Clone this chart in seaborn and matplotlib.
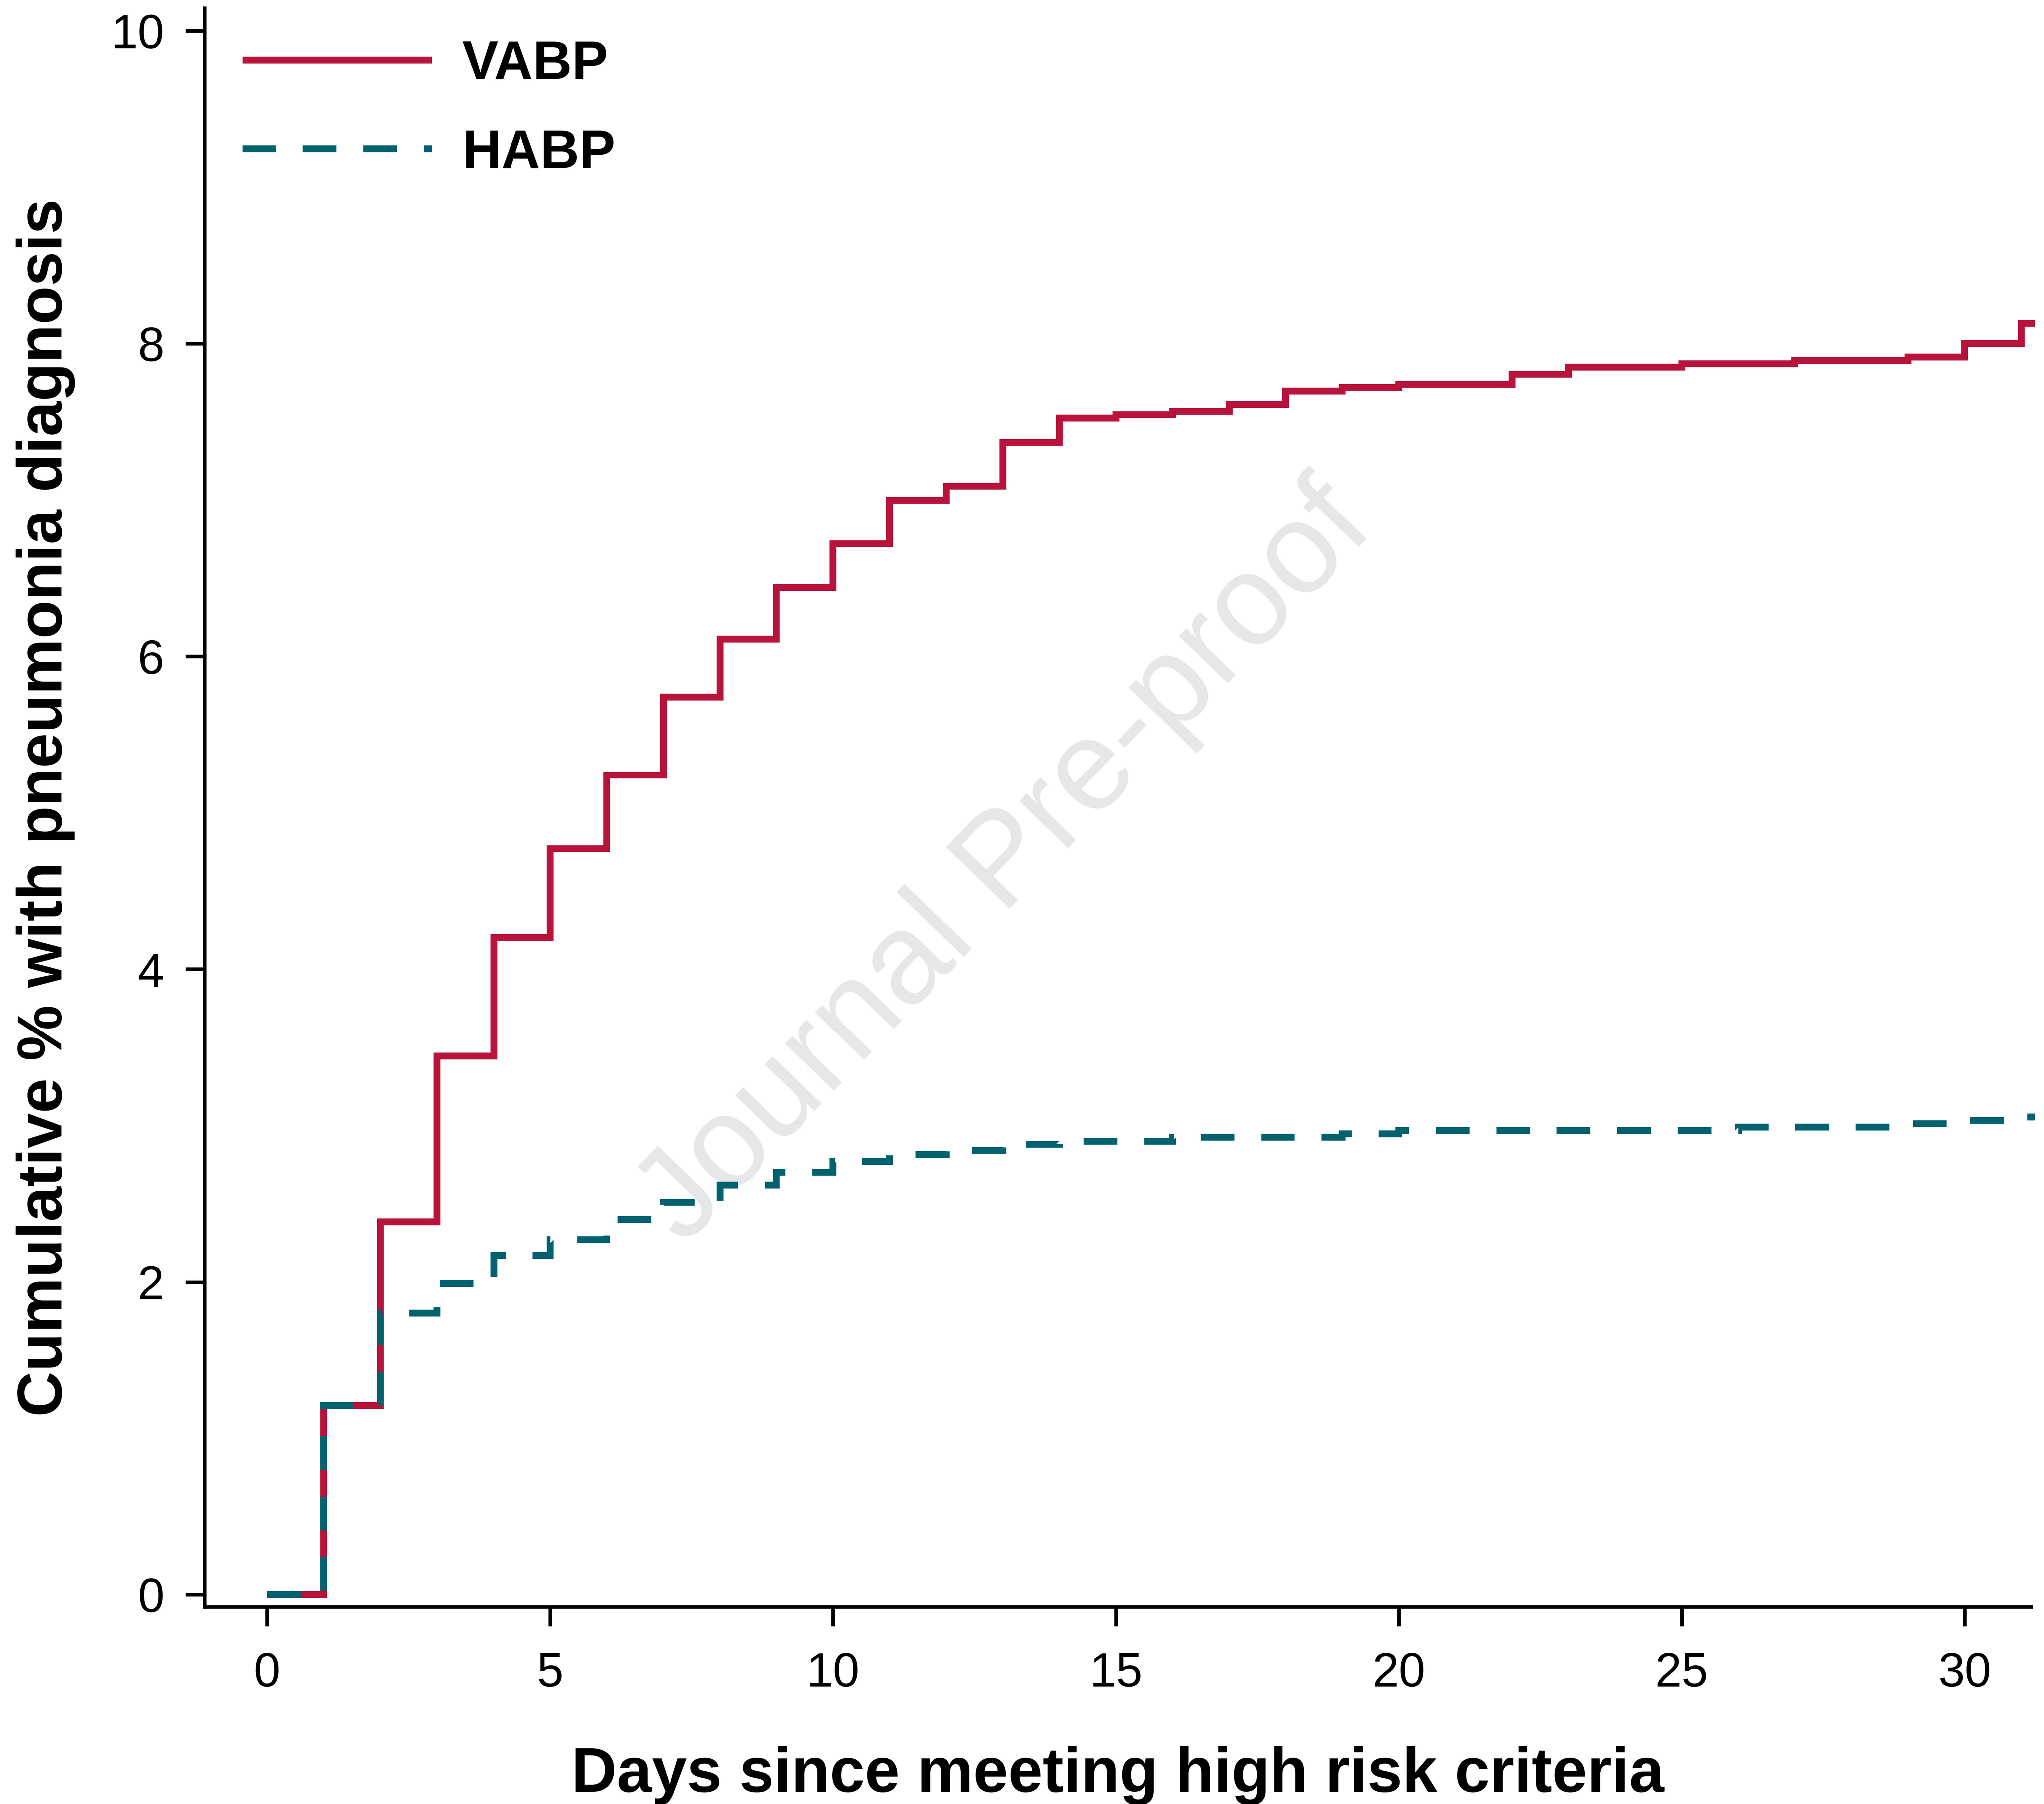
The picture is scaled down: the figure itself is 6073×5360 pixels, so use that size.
import matplotlib
matplotlib.use("Agg")
import matplotlib.pyplot as plt
import seaborn as sns
import pandas as pd

# ---- data ----
days = list(range(32)) + [31.24]
vabp = [0.0, 1.21, 2.385, 3.444, 4.204, 4.77, 5.24, 5.74, 6.11, 6.44, 6.72,
        7.00, 7.09, 7.37, 7.525, 7.545, 7.568, 7.61, 7.697, 7.72, 7.74,
        7.74, 7.805, 7.85, 7.85, 7.87, 7.87, 7.893, 7.893, 7.914, 8.0,
        8.13, 8.13]
habp = [0.0, 1.21, 1.80, 1.99, 2.17, 2.27, 2.40, 2.51, 2.62, 2.70, 2.77,
        2.815, 2.84, 2.88, 2.90, 2.90, 2.925, 2.925, 2.925, 2.947, 2.968,
        2.968, 2.968, 2.968, 2.968, 2.968, 2.99, 2.99, 2.99, 3.011, 3.033,
        3.054, 3.054]
series_labels = ["VABP", "HABP"]
x_ticks = [0, 5, 10, 15, 20, 25, 30]
y_ticks = [0, 2, 4, 6, 8, 10]
x_label = "Days since meeting high risk criteria"
y_label = "Cumulative % with pneumonia diagnosis"
watermark = "Journal Pre-proof"

df_v = pd.DataFrame({"day": days, "pct": vabp})
df_h = pd.DataFrame({"day": days, "pct": habp})

RED = "#B8133A"
TEAL = "#00616F"

sns.set_theme(style="ticks")
plt.rcParams["font.family"] = ["Liberation Sans", "DejaVu Sans"]
plt.rcParams["axes.linewidth"] = 1.25
plt.rcParams["text.color"] = "black"
plt.rcParams["axes.labelcolor"] = "black"
plt.rcParams["xtick.color"] = "black"
plt.rcParams["ytick.color"] = "black"
plt.rcParams["axes.edgecolor"] = "black"

W, H, DPI = 6073, 5360, 600
fig = plt.figure(figsize=(W / DPI, H / DPI), dpi=DPI)
fig.patch.set_facecolor("white")
AX_L, AX_R, AX_T, AX_B = 608, 6034, 25, 4775
ax = fig.add_axes([AX_L / W, 1 - AX_B / H, (AX_R - AX_L) / W, (AX_B - AX_T) / H])
ax.set_facecolor("white")

lw = 2.45
sns.lineplot(data=df_v, x="day", y="pct", ax=ax, color=RED, linewidth=lw,
             drawstyle="steps-post", errorbar=None, sort=False,
             solid_joinstyle="miter", solid_capstyle="butt", zorder=2,
             clip_on=False)
sns.lineplot(data=df_h, x="day", y="pct", ax=ax, color=TEAL, linewidth=lw,
             drawstyle="steps-post", errorbar=None, sort=False,
             linestyle=(0, (4.9, 3.9)), dash_capstyle="butt",
             dash_joinstyle="miter", zorder=3, clip_on=False)

ax.set_xlim(-1.107, 31.17)
ax.set_ylim(-0.080, 10.144)
ax.set_xticks(x_ticks)
ax.set_yticks(y_ticks)
ax.tick_params(axis="both", which="major", length=6.8, width=1.3,
               color="black", labelsize=17, labelcolor="black")
ax.tick_params(axis="x", pad=9.0)
ax.tick_params(axis="y", pad=7.6)
sns.despine(ax=ax)
for s in ("left", "bottom"):
    ax.spines[s].set_color("black")
    ax.spines[s].set_linewidth(1.25)

ax.set_xlabel(x_label, fontsize=22.4, fontweight="bold", color="black")
ax.set_ylabel(y_label, fontsize=22.4, fontweight="bold", color="black")
ax.xaxis.set_label_coords(0.5, -0.0867)
ax.yaxis.set_label_coords(-0.0708, 0.5)

lines = ax.get_lines()
leg = ax.legend(handles=lines[:2], labels=series_labels, loc="upper left",
                bbox_to_anchor=(0.0206, 0.9804), borderaxespad=0, borderpad=0,
                frameon=False, handlelength=3.5, handletextpad=0.56,
                labelspacing=0.70, prop={"weight": "bold", "size": 19.3},
                labelcolor="black")

ax.text(0.4922, 0.5206, watermark, transform=fig.transFigure, rotation=46,
        rotation_mode="anchor", ha="center", va="center", fontsize=46,
        color="#E6E7E8", zorder=0.5)

fig.savefig("out.png", dpi=DPI, facecolor="white")
